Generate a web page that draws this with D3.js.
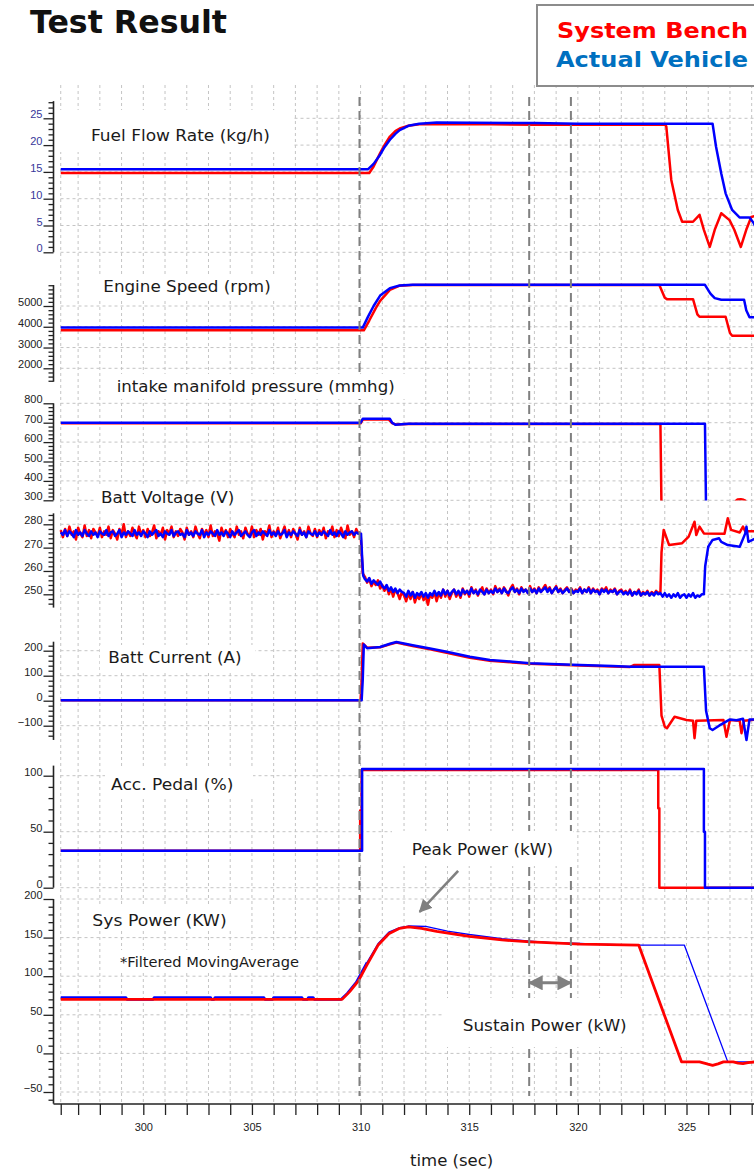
<!DOCTYPE html>
<html>
<head>
<meta charset="utf-8">
<script src="https://cdn.jsdelivr.net/npm/d3@7"></script>
<style>
  body { margin: 0; background: #fff; }
  svg { display: block; }
</style>
</head>
<body>
<svg id="chart" width="754" height="1170"></svg>
<script>
// ---------- data (time in sec, value) ----------
// a sampled signal: first time, step, values
const sampled = (t0, step, vals) => vals.map((v, i) => [+(t0 + i * step).toFixed(3), v]);

const fuelBench = [[296.2,14.8],[310.4,14.8],[310.6,16.0],[310.9,18.5],[311.1,20.0],[311.35,21.6],[311.6,22.6],[311.8,23.1],[312.2,23.6],[312.7,23.9],[316.0,23.9],[318.0,23.8],[324.0,23.8],[324.07,23.5],[324.3,13.5],[324.6,7.9],[324.8,5.7],[325.3,5.7],[325.6,7.0],[325.8,4.2],[326.07,1.0],[326.3,4.2],[326.6,7.3],[326.98,6.0],[327.2,4.2],[327.5,1.0],[327.75,4.2],[327.98,6.6],[328.2,6.8]];
const fuelVehicle = [[296.2,15.5],[310.35,15.5],[310.6,16.5],[310.9,18.2],[311.1,19.6],[311.35,21.0],[311.6,22.1],[311.8,22.8],[312.2,23.6],[312.7,24.0],[313.5,24.2],[318.0,24.1],[320.0,24.0],[326.2,24.0],[326.36,19.7],[326.6,14.7],[326.8,11.0],[327.1,7.9],[327.44,6.5],[327.9,6.5],[328.1,5.4],[328.2,4.5]];

const engineBench = [[296.2,3830],[310.15,3830],[310.4,4300],[310.7,4900],[310.9,5250],[311.35,5780],[311.8,5980],[312.4,6010],[323.75,6010],[324.0,5400],[324.1,5330],[325.3,5330],[325.5,4600],[325.6,4480],[326.8,4480],[327.0,3700],[327.1,3570],[328.2,3570]];
const engineVehicle = [[296.2,3960],[310.1,3960],[310.35,4500],[310.6,5000],[310.9,5500],[311.35,5860],[311.8,5990],[312.4,6020],[325.85,6020],[326.1,5600],[326.3,5380],[326.6,5300],[327.65,5300],[327.75,4800],[327.9,4460],[328.2,4460]];

const intakeBench = [[296.2,697],[310.0,697],[310.1,716],[311.3,716],[311.45,698],[311.6,691],[312.2,693],[323.8,693],[323.85,250],[327.2,250],[327.28,298],[327.35,304],[327.5,306],[327.62,303],[327.7,298],[327.8,250],[328.2,250]];
const intakeVehicle = [[296.2,700],[310.0,700],[310.1,720],[311.35,720],[311.45,700],[311.6,690],[312.2,694],[325.85,694],[325.9,250],[328.2,250]];

const voltBenchBefore = [
  277.5,274.5,278,275,279,275.5,277,273.5,278.5,276,274.5,279.5,275,277.5,274,278,276.5,275,278.5,274.5,
  277,275.5,279,274,277.5,276,273.5,278,275.5,280,274.5,277,275,278.5,276,274,279,275.5,277.5,274.5,
  278,275,276.5,279.5,274,277,275.5,278.5,273.5,277.5,276,279,274.5,277,275,278,276.5,273.5,278.5,275.5,
  277,274.5,279,276,274,278,275.5,277.5,274.5,279.5,275,277,276,273,278.5,275.5,277.5,274.5,278,276,
  274.5,279,275.5,277,274,278.5,276,275,279,274.5,277.5,275.5,278,273.5,277,276,279.5,274.5,277,275.5,
  278.5,274,276.5,279,275,277.5,274.5,278,276,273.5,278.5,275.5,277,274.5,279,276,275,278,274.5,277.5,
  275.5,278.5,274,277,276,279,274.5,277.5,275,278.5,276,274,279.5,275.5,277,274.5,278,276];
const voltBenchAfter = [
  257.5,255,256.5,253.5,255.5,254,256,252.5,
  254,251.5,253.5,250,252.5,249,252,250.5,248,251,
  249.5,247,250.5,248,251,246.5,249.5,248,250.5,247.5,249,245.5,250,248.5,251,247,
  250.5,248.5,252,249,251.5,248,250.5,252,249,251,248.5,252.5,250,251.5,249,253,250.5,252,249.5,251.5,253,250,252.5,250.5,
  252,250,253.5,251,252.5,250.5,253,251.5,249.5,252.5,254,251,252.5,250,253,251.5,252,250.5,253.5,251,
  252.5,250.5,253,251,252.5,254,251.5,253,250.5,252,253.5,251,252.5,250.5,252,253,251,252.5,250.5,252,
  251.5,253,250.5,252,251,253,250.5,252.5,251,252,250,252.5,251.5,253,250.5,252,251,252.5,250,251.5,
  252,250.5,251.5,250,252,249.5,251,250.5,252,249.5,251,250,251.5,249.5,251,250,251.5,250.5];
const voltBenchEnd = [[323.8,251],[323.85,268],[323.95,277.6],[324.2,271.1],[324.8,271.9],[325.1,274.7],[325.37,281.1],[325.45,275.4],[325.6,279],[325.8,276.1],[326.75,276],[326.9,282.6],[327.05,277.6],[327.45,276.5],[327.6,279],[327.7,277],[328.2,277]];

const voltVehicleBefore = [
  276.5,275.5,277.5,275,277,276,274.5,277.5,275.5,276.5,275,277.5,276,275,277,275.5,276.5,274.5,277,276,
  275.5,277.5,275,276.5,277,275,276,277.5,274.5,276.5,275.5,277,276,275,277.5,275.5,276.5,275,277,276,
  274.5,277,275.5,276.5,277.5,275,276,274.5,277,276,275.5,277.5,275,276.5,277,275.5,276,274.5,277.5,275.5,
  276.5,275,277,276,275.5,277.5,274.5,276.5,275.5,277,276,275,277.5,275.5,276.5,275,277,276,274.5,277,
  275.5,276.5,277.5,275,276,277,275.5,274.5,276.5,277.5,275,276.5,275.5,277,276,275,277.5,275.5,276.5,275,
  277,275.5,276,277.5,274.5,276.5,275.5,277,276,275,277.5,275.5,276.5,274.5,277,276,275.5,277,275,276.5,
  275.5,277,276,275,277.5,275.5,276.5,275,277,276,274.5,277,275.5,276.5,277,275.5,276.5,276];
const voltVehicleAfter = [
  256.5,255.5,257,254.5,256,255,254,255.5,
  253.5,252.5,254,251.5,253,251,252.5,250.5,252,251,
  250.5,249,251.5,249.5,251,248.5,250.5,249.5,251,249,250.5,248.5,250.5,249.5,251.5,249.5,
  251,249.5,252,250,251.5,249.5,251,252,250,251.5,249.5,252,250.5,251.5,250,252.5,250.5,251.5,250,252,251,250,252,250.5,
  251.5,250.5,252.5,251,252,250.5,252.5,251,250.5,252,253,251,252,250.5,252.5,251,252,250.5,252.5,251,
  252,250.5,252.5,251,252,253,251,252.5,250.5,252,253,251,252,250.5,251.5,252.5,251,252,250.5,251.5,
  251,252.5,250.5,252,251,252.5,250.5,252,251,251.5,250,252,251,252,250.5,251.5,251,252,250,251,
  251.5,250,251,250,251.5,249.5,251,250,251.5,249.5,250.5,250,251,249.5,250.5,249.5,251,250,250.5,249,
  250.5,249,250,248.5,250,249,250.5,248.5,249.5,250,248.5,250,249,250.5,248.5,249.5,249,250];
const voltVehicleEnd = [[325.8,250],[325.86,262],[326.0,270.4],[326.2,273.3],[326.5,274],[326.6,272.5],[326.9,271.1],[327.45,270.4],[327.7,276],[327.76,279],[327.85,272.5],[328.2,274]];

const voltBench = sampled(296.2, 0.1, voltBenchBefore)
  .concat([[310.0,276],[310.05,268],[310.1,259]])
  .concat(sampled(310.2, 0.1, voltBenchAfter))
  .concat(voltBenchEnd);
const voltVehicle = sampled(296.2, 0.1, voltVehicleBefore)
  .concat([[310.02,276],[310.07,266],[310.12,258]])
  .concat(sampled(310.2, 0.1, voltVehicleAfter))
  .concat(voltVehicleEnd);

const currentBench = [[296.2,2],[310.0,2],[310.05,80],[310.1,229],[310.3,212],[310.9,214],[311.35,226],[311.65,233],[312.4,219],[313.2,206],[313.96,192],[315.03,172],[315.95,160],[317.0,153],[317.8,148],[320.1,141],[321.6,137],[322.4,135],[322.6,143],[323.75,143],[323.85,-60],[324.0,-104],[324.1,-110],[324.45,-64],[325.0,-77],[325.3,-80],[325.37,-150],[325.45,-80],[326.7,-77],[326.84,-144],[327.0,-77],[327.45,-80],[327.53,-130],[327.65,-80],[328.2,-75]];
const currentVehicle = [[296.2,2],[310.05,2],[310.1,85],[310.15,225],[310.3,210],[310.9,215],[311.35,228],[311.65,235],[312.4,222],[313.2,209],[313.96,196],[315.03,176],[315.95,163],[317.0,156],[317.8,150],[320.1,143],[321.6,139],[322.4,136],[325.8,136],[325.9,-40],[326.07,-110],[326.2,-117],[326.5,-100],[327.0,-75],[327.3,-78],[327.6,-72],[327.76,-157],[327.9,-75],[328.2,-75]];

const pedalBench = [[296.2,33],[309.98,33],[309.98,69],[310.05,69],[310.05,105],[323.7,105],[323.7,71],[323.75,71],[323.75,0],[328.2,0]];
const pedalVehicle = [[296.2,33],[310.07,33],[310.07,106],[325.8,106],[325.8,50],[325.85,50],[325.85,0],[328.2,0]];

const powerBench = [[296.2,70],[309.15,70],[309.5,80],[309.9,94],[310.3,115],[310.8,140],[311.3,155],[311.8,162],[312.2,164],[312.8,162],[313.5,158],[315.0,151.5],[316.5,147],[317.8,144.5],[320.1,141.5],[322.8,140.3],[324.77,-10.9],[325.6,-10.9],[325.99,-14],[326.2,-15.5],[326.45,-13.5],[326.7,-10.9],[327.15,-10.9],[327.38,-12.5],[327.6,-13.2],[327.83,-11.9],[328.2,-10.9]];
const powerVehicle = [[296.2,72.5],[299.2,72.5],[299.25,70],[300.45,70],[300.5,72.5],[303.1,72.5],[303.15,70],[303.25,70],[303.3,72.5],[305.55,72.5],[305.6,70],[305.95,70],[306.0,72.5],[307.3,72.5],[307.35,70],[307.55,70],[307.6,72.5],[307.82,72.5],[307.87,70],[309.1,70],[309.4,78],[309.8,92],[310.3,118],[310.8,142],[311.3,157],[311.8,163],[312.2,165],[313.0,164.5],[314.0,158.5],[315.0,154],[316.5,148.5],[317.8,145.5],[318.8,143.5],[320.1,142.5],[320.8,141.5],[322.8,140.3],[324.9,140.3],[326.9,-11],[328.2,-11]];

const markerTimes = [309.95, 317.76, 319.68];
const xTickLabels = [300, 305, 310, 315, 320, 325];

// ---------- layout ----------
const RED = "#ff0000", BLUE = "#0000ff";
const AXIS_X = 53.5, PLOT_X0 = 60.5, PLOT_X1 = 754, XAXIS_Y = 1104;
const GRID = "#c4c4c4";
const svg = d3.select("#chart");

const x = d3.scaleLinear().domain([300, 325]).range([143.3, 686.5]);
const tStart = 296.2;

const panels = [
  { dom:[0,25], rng:[252.3,118.3], ext:[0,28.2], major:[0,5,10,15,20,25], minor:1, color:"#37379a", bench:fuelBench, vehicle:fuelVehicle },
  { dom:[2000,5000], rng:[368.3,306], ext:[1355,6010], major:[2000,3000,4000,5000], minor:200, color:"#222", bench:engineBench, vehicle:engineVehicle },
  { dom:[300,800], rng:[500.3,403.3], ext:[300,800], major:[300,400,500,600,700,800], minor:20, color:"#222", bench:intakeBench, vehicle:intakeVehicle, clip:[820,299] },
  { dom:[250,280], rng:[594.3,524.3], ext:[244.3,284.7], major:[250,260,270,280], minor:2, color:"#222", bench:voltBench, vehicle:voltVehicle },
  { dom:[-100,200], rng:[725.7,650.7], ext:[-157,236], major:[-100,0,100,200], minor:20, color:"#222", bench:currentBench, vehicle:currentVehicle },
  { dom:[0,100], rng:[887.7,775.7], ext:[0,109], major:[0,50,100], minor:10, color:"#222", bench:pedalBench, vehicle:pedalVehicle },
  { dom:[-50,200], rng:[1092,899], ext:[-65.2,200], major:[-50,0,50,100,150,200], minor:10, color:"#222", bench:powerBench, vehicle:powerVehicle, power:true }
];
panels.forEach(p => { p.y = d3.scaleLinear().domain(p.dom).range(p.rng); });

// ---------- grid ----------
const gridG = svg.append("g");
gridG.selectAll(".vg").data([tStart].concat(d3.range(297, 329))).join("line")
  .attr("x1", d => x(d)).attr("x2", d => x(d))
  .attr("y1", 85).attr("y2", XAXIS_Y)
  .attr("stroke", GRID).attr("stroke-dasharray", "3,3");
panels.forEach(p => {
  gridG.append("g").selectAll("line").data(p.major).join("line")
    .attr("x1", PLOT_X0).attr("x2", PLOT_X1)
    .attr("y1", d => p.y(d)).attr("y2", d => p.y(d))
    .attr("stroke", GRID).attr("stroke-dasharray", "3,3");
});

// ---------- y axes ----------
const tickFont = "11px 'Liberation Sans', Arial, sans-serif";
panels.forEach(p => {
  const g = svg.append("g").attr("transform", `translate(${AXIS_X},0)`);
  const lo = Math.ceil(p.ext[0] / p.minor) * p.minor;
  const minors = d3.range(lo, p.ext[1] + 1e-6, p.minor).map(v => +v.toFixed(3)).filter(v => !p.major.includes(v));
  g.append("g")
    .call(d3.axisLeft(p.y).tickValues(minors).tickSize(5).tickFormat(""))
    .call(a => a.select(".domain").remove())
    .call(a => a.selectAll("line").attr("stroke", "#222").attr("stroke-width", 1.3));
  g.append("g")
    .call(d3.axisLeft(p.y).tickValues(p.major).tickSize(10).tickFormat(d3.format("d")))
    .call(a => a.select(".domain").remove())
    .call(a => a.selectAll("line").attr("stroke", "#222").attr("stroke-width", 1.3))
    .call(a => a.selectAll("text").attr("x", -11).attr("dy", "-0.5")
      .attr("fill", p.color).style("font", tickFont));
  g.append("line").attr("y1", p.y(p.ext[0])).attr("y2", p.y(p.ext[1]))
    .attr("stroke", "#222").attr("stroke-width", 1.6);
});

// ---------- x axis ----------
svg.append("g").attr("transform", `translate(0,${XAXIS_Y})`)
  .call(d3.axisBottom(x).tickValues([tStart].concat(d3.range(297, 330))).tickSize(11)
    .tickFormat(d => xTickLabels.includes(d) ? d : ""))
  .call(a => a.select(".domain").remove())
  .call(a => a.selectAll("line").attr("stroke", "#222").attr("stroke-width", 1.3))
  .call(a => a.selectAll("text").attr("y", 19).attr("fill", "#222").style("font", tickFont));
svg.append("line").attr("x1", AXIS_X).attr("x2", PLOT_X1).attr("y1", XAXIS_Y).attr("y2", XAXIS_Y)
  .attr("stroke", "#222").attr("stroke-width", 1.6);

// ---------- series ----------
const defs = svg.append("defs");
panels.forEach((p, i) => {
  const line = d3.line().x(d => x(d[0])).y(d => p.y(d[1]));
  const g = svg.append("g").attr("fill", "none").attr("stroke-linejoin", "round");
  if (p.clip) {
    defs.append("clipPath").attr("id", "clip" + i).append("rect")
      .attr("x", PLOT_X0).attr("width", PLOT_X1 - PLOT_X0)
      .attr("y", p.y(p.clip[0])).attr("height", p.y(p.clip[1]) - p.y(p.clip[0]));
    g.attr("clip-path", `url(#clip${i})`);
  }
  if (p.power) {
    g.append("path").datum(p.vehicle.filter(d => d[0] <= 310.3))
      .attr("d", line).attr("stroke", BLUE).attr("stroke-width", 2.6);
    g.append("path").datum(p.vehicle.filter(d => d[0] >= 310.3))
      .attr("d", line).attr("stroke", BLUE).attr("stroke-width", 1.3);
    g.append("path").datum(p.bench).attr("d", line).attr("stroke", RED).attr("stroke-width", 2.8);
  } else {
    g.append("path").datum(p.bench).attr("d", line).attr("stroke", RED).attr("stroke-width", 2.5);
    g.append("path").datum(p.vehicle).attr("d", line).attr("stroke", BLUE).attr("stroke-width", 2.5);
  }
});

// ---------- dashed markers ----------
svg.append("g").selectAll("line").data(markerTimes).join("line")
  .attr("x1", d => x(d)).attr("x2", d => x(d))
  .attr("y1", 97).attr("y2", 1096)
  .attr("stroke", "#808080").attr("stroke-width", 2).attr("stroke-dasharray", "9,5");

// ---------- labels ----------
const labels = [
  { text:"Fuel Flow Rate (kg/h)", x:91, y:141, w:179, box:[60,110,293,152] },
  { text:"Engine Speed (rpm)", x:103.3, y:291.7, w:167.4, box:[95,274,285,299] },
  { text:"intake manifold pressure (mmhg)", x:116.7, y:391.7, w:278, box:[108,374,405,399] },
  { text:"Batt Voltage (V)", x:101, y:502.5, w:133.3, box:[94,484,250,508] },
  { text:"Batt Current (A)", x:108.3, y:663.3, w:133.3, box:[100,645,255,670] },
  { text:"Acc. Pedal (%)", x:111, y:790, w:122.3, box:[105,768,253,797] },
  { text:"Sys Power (KW)", x:92.3, y:925.5, w:134.3, box:[85,906,240,931] },
  { text:"*Filtered MovingAverage", x:120, y:967.3, w:179, box:[112,950,306,972], size:13.5 },
  { text:"Peak Power (kW)", x:411.7, y:855, w:141.3, box:[392,831,573,866] },
  { text:"Sustain Power (kW)", x:462.7, y:1030.7, w:164, box:[442,998,642,1047] },
  { text:"time (sec)", x:410, y:1166, w:83.3 }
];
const lg = svg.append("g");
lg.selectAll("rect").data(labels.filter(d => d.box)).join("rect")
  .attr("x", d => d.box[0]).attr("y", d => d.box[1])
  .attr("width", d => d.box[2] - d.box[0]).attr("height", d => d.box[3] - d.box[1])
  .attr("fill", "#fff");
lg.selectAll("text").data(labels).join("text")
  .attr("x", d => d.x).attr("y", d => d.y)
  .attr("textLength", d => d.w).attr("lengthAdjust", "spacingAndGlyphs")
  .attr("fill", "#1a1a1a")
  .style("font-family", "'DejaVu Sans', Verdana, sans-serif")
  .style("font-size", d => (d.size || 16) + "px")
  .text(d => d.text);

// ---------- arrows ----------
const pY = panels[6].y;
defs.append("marker").attr("id", "head").attr("viewBox", "0 0 10 10")
  .attr("refX", 9).attr("refY", 5).attr("markerWidth", 5).attr("markerHeight", 5)
  .attr("markerUnits", "strokeWidth").attr("orient", "auto-start-reverse")
  .append("path").attr("d", "M0,0L10,5L0,10z").attr("fill", "#808080");

svg.append("line")
  .attr("x1", x(314.49)).attr("y1", pY(236.5))
  .attr("x2", x(312.72)).attr("y2", pY(183.4))
  .attr("stroke", "#808080").attr("stroke-width", 2.6)
  .attr("marker-end", "url(#head)");
svg.append("line")
  .attr("x1", x(markerTimes[1])).attr("y1", pY(91.4))
  .attr("x2", x(markerTimes[2])).attr("y2", pY(91.4))
  .attr("stroke", "#808080").attr("stroke-width", 3)
  .attr("marker-start", "url(#head)").attr("marker-end", "url(#head)");

// ---------- title & legend ----------
svg.append("text").attr("x", 30).attr("y", 33)
  .attr("textLength", 197).attr("lengthAdjust", "spacingAndGlyphs")
  .style("font", "bold 32px 'DejaVu Sans', Verdana, sans-serif").attr("fill", "#111")
  .text("Test Result");
svg.append("rect").attr("x", 537).attr("y", 5).attr("width", 240).attr("height", 81)
  .attr("fill", "#fff").attr("stroke", "#8c8c8c").attr("stroke-width", 2);
svg.append("text").attr("x", 557).attr("y", 37.5)
  .attr("textLength", 191).attr("lengthAdjust", "spacingAndGlyphs")
  .style("font", "bold 22px 'DejaVu Sans', Verdana, sans-serif").attr("fill", RED)
  .text("System Bench");
svg.append("text").attr("x", 556).attr("y", 66.5)
  .attr("textLength", 192).attr("lengthAdjust", "spacingAndGlyphs")
  .style("font", "bold 22px 'DejaVu Sans', Verdana, sans-serif").attr("fill", "#0070c0")
  .text("Actual Vehicle");
</script>
</body>
</html>
